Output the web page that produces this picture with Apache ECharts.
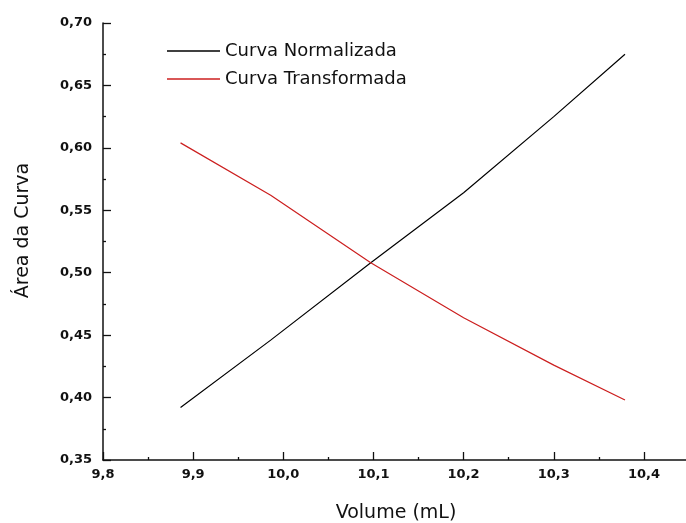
<!DOCTYPE html>
<html>
<head>
<meta charset="utf-8">
<script src="https://cdn.jsdelivr.net/npm/echarts@6/dist/echarts.min.js"></script>
<style>
  html, body { margin: 0; padding: 0; background: #fff; }
  #chart { width: 686px; height: 523px; }
</style>
</head>
<body>
<div id="chart"></div>
<script>
// Volume (mL) at which each curve was sampled
const volumes = [9.886, 9.986, 10.097, 10.2, 10.3, 10.379];
// Normalised-curve area
const normalizada = [0.392, 0.446, 0.508, 0.564, 0.625, 0.675];
// Transformed-curve area
const transformada = [0.604, 0.562, 0.508, 0.464, 0.426, 0.398];

const seriesNames = ['Curva Normalizada', 'Curva Transformada'];

const pairs = (xs, ys) => xs.map((x, i) => [x, ys[i]]);
const comma = (v, d) => v.toFixed(d).replace('.', ',');

const FONT = 'DejaVu Sans';
const INK = '#111';

const chart = echarts.init(document.getElementById('chart'), null, { renderer: 'canvas' });

const axisCommon = {
  axisLine: { show: true, onZero: false, lineStyle: { color: INK, width: 1.5 } },
  axisTick: { show: true, inside: true, length: 8, lineStyle: { color: INK, width: 1.3 } },
  minorTick: { show: true, splitNumber: 2, length: 3, lineStyle: { color: INK, width: 1.3 } },
  splitLine: { show: false },
  nameLocation: 'middle'
};

const tickLabel = { fontFamily: FONT, fontSize: 13, fontWeight: 'bold', color: '#111' };

chart.setOption({
  animation: false,
  backgroundColor: '#fff',
  grid: { left: 103, top: 23, width: 586, bottom: 63, containLabel: false, outerBoundsMode: 'none' },
  legend: {
    orient: 'vertical',
    left: 162,
    top: 37,
    itemWidth: 53,
    itemHeight: 1.5,
    itemGap: 10,
    icon: 'rect',
    data: seriesNames,
    textStyle: { fontFamily: FONT, fontSize: 18, color: INK }
  },
  xAxis: Object.assign({}, axisCommon, {
    type: 'value',
    min: 9.8,
    max: 10.45,
    interval: 0.1,
    name: 'Volume (mL)',
    nameGap: 44,
    nameTextStyle: { fontFamily: FONT, fontSize: 19, color: INK },
    axisLabel: Object.assign({}, tickLabel, {
      margin: 8,
      showMaxLabel: false,
      formatter: v => comma(v, 1)
    })
  }),
  yAxis: Object.assign({}, axisCommon, {
    type: 'value',
    min: 0.35,
    max: 0.70,
    interval: 0.05,
    name: 'Área da Curva',
    nameGap: 70,
    nameTextStyle: { fontFamily: FONT, fontSize: 19, color: INK, padding: [0, 0, 0, 22] },
    axisLabel: Object.assign({}, tickLabel, {
      margin: 11,
      formatter: v => comma(v, 2)
    })
  }),
  series: [
    {
      name: seriesNames[0],
      type: 'line',
      data: pairs(volumes, normalizada),
      symbol: 'none',
      smooth: false,
      lineStyle: { color: '#000', width: 1.2 },
      itemStyle: { color: '#000' }
    },
    {
      name: seriesNames[1],
      type: 'line',
      data: pairs(volumes, transformada),
      symbol: 'none',
      smooth: false,
      lineStyle: { color: '#cc1f1f', width: 1.2 },
      itemStyle: { color: '#cc1f1f' }
    }
  ]
});
</script>
</body>
</html>
